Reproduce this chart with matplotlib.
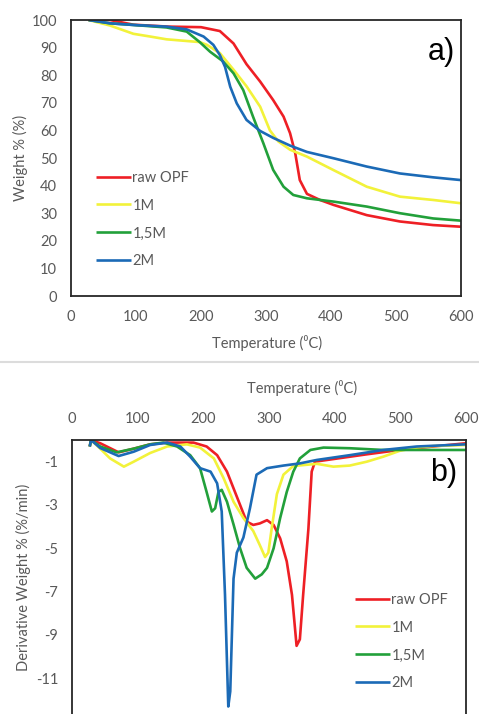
import numpy as np
import matplotlib
matplotlib.use('Agg')
import matplotlib.pyplot as plt
from matplotlib.lines import Line2D

plt.rcParams['font.family'] = ['Lato', 'DejaVu Sans']
plt.rcParams['axes.unicode_minus'] = False

# ====================================
# DATA
# ====================================
labels = ['raw OPF', '1M', '1,5M', '2M']
colors = ['#EE1F25', '#F2F23A', '#22A03A', '#1B6AB6']

# TGA (weight %)
tga_raw_t = [27, 60, 96, 150, 200, 229, 250, 270, 291, 311, 327, 337, 345, 352, 363, 383, 404, 455, 506, 557, 600]
tga_raw_w = [100, 100, 98.3, 97.6, 97.4, 96, 91.5, 84, 77.7, 71, 65, 59, 51.7, 42, 37, 34.8, 33, 29.3, 27, 25.7, 25.1]

tga_1m_t = [27, 60, 96, 122, 147, 198, 209, 229, 250, 270, 291, 306, 319, 337, 363, 404, 455, 506, 557, 600]
tga_1m_w = [100, 98, 95, 94, 93, 92, 91, 88, 82, 76, 68.6, 60, 56, 53, 50.5, 45.6, 39.6, 36, 34.8, 33.6]

tga_15m_t = [27, 60, 96, 147, 178, 198, 214, 234, 250, 265, 280, 296, 311, 327, 342, 363, 404, 455, 506, 557, 600]
tga_15m_w = [100, 98.8, 98.2, 97.3, 95.8, 92, 88.5, 85, 80.7, 74.6, 65, 55.3, 45.7, 39.6, 36.6, 35.4, 34.2, 32.4, 30, 28.1, 27.3]

tga_2m_t = [27, 60, 96, 147, 178, 204, 219, 229, 237, 245, 255, 270, 291, 311, 337, 363, 404, 455, 506, 557, 600]
tga_2m_w = [100, 98.8, 98.2, 97.6, 96.6, 94, 91, 87.3, 83, 75.8, 69.8, 63.8, 59.8, 57.3, 54.5, 52.2, 49.9, 46.9, 44.4, 43, 42]

# DTG (%/min)
dtg_raw_t = [27, 29, 43, 71, 94, 119, 145, 185, 205, 221, 236, 246, 256, 266, 276, 286, 297, 307, 317, 327, 335, 342, 347, 352, 360, 365, 370, 398, 449, 499, 550, 600]
dtg_raw_d = [-0.3, 0, -0.15, -0.57, -0.4, -0.2, -0.12, -0.12, -0.3, -0.7, -1.46, -2.23, -3.0, -3.77, -3.92, -3.85, -3.7, -3.92, -4.54, -5.6, -7.15, -9.5, -9.2, -7.15, -4.1, -1.46, -1.0, -0.88, -0.66, -0.46, -0.3, -0.15]

dtg_1m_t = [27, 29, 43, 58, 79, 94, 119, 145, 175, 195, 216, 231, 246, 261, 276, 286, 294, 299, 304, 312, 322, 337, 373, 398, 423, 449, 474, 499, 525, 550, 600]
dtg_1m_d = [-0.3, 0, -0.4, -0.85, -1.23, -1.0, -0.6, -0.3, -0.2, -0.35, -0.85, -1.77, -2.85, -3.6, -4.2, -4.85, -5.4, -5.2, -4.1, -2.5, -1.6, -1.2, -1.1, -1.23, -1.18, -1.0, -0.77, -0.5, -0.35, -0.28, -0.23]

dtg_15m_t = [27, 29, 43, 68, 94, 119, 139, 160, 180, 195, 205, 213, 218, 223, 228, 236, 246, 256, 266, 279, 289, 297, 307, 317, 327, 337, 347, 363, 383, 423, 474, 525, 600]
dtg_15m_d = [-0.3, 0, -0.3, -0.57, -0.4, -0.2, -0.12, -0.3, -0.7, -1.3, -2.4, -3.3, -3.15, -2.4, -2.3, -2.85, -3.9, -5.0, -5.9, -6.4, -6.2, -5.9, -5.0, -3.6, -2.4, -1.46, -0.85, -0.46, -0.35, -0.38, -0.46, -0.46, -0.46]

dtg_2m_t = [27, 29, 43, 71, 94, 119, 145, 165, 180, 195, 211, 221, 228, 233, 238, 241, 246, 251, 261, 271, 281, 297, 322, 347, 373, 423, 474, 525, 600]
dtg_2m_d = [-0.3, 0, -0.37, -0.74, -0.54, -0.23, -0.12, -0.3, -0.77, -1.3, -1.46, -2.0, -3.3, -7.15, -12.3, -11.6, -6.4, -5.2, -4.5, -3.15, -1.6, -1.3, -1.18, -1.08, -0.92, -0.7, -0.46, -0.3, -0.2]

x_ticks = [0, 100, 200, 300, 400, 500, 600]
tga_yticks = list(range(0, 101, 10))
dtg_yticks = [-1, -3, -5, -7, -9, -11, -13]

tga_series = [(tga_raw_t, tga_raw_w), (tga_1m_t, tga_1m_w), (tga_15m_t, tga_15m_w), (tga_2m_t, tga_2m_w)]
dtg_series = [(dtg_raw_t, dtg_raw_d), (dtg_1m_t, dtg_1m_d), (dtg_15m_t, dtg_15m_d), (dtg_2m_t, dtg_2m_d)]

txt_col = '#595959'
W, H = 479, 714

fig = plt.figure(figsize=(W / 100, H / 100), dpi=100)

def style_axes(ax):
    for s in ax.spines.values():
        s.set_color('#262626')
        s.set_linewidth(1.3)
    ax.tick_params(length=0, labelsize=10.5, labelcolor=txt_col, pad=10)

# ====================================
# a) TGA
# ====================================
ax1 = fig.add_axes([71 / W, 1 - 296 / H, 390 / W, 276 / H])
for (t, w), c, lab in zip(tga_series, colors, labels):
    ax1.plot(t, w, color=c, lw=1.9, label=lab, solid_capstyle='butt')
ax1.set_xlim(0, 600)
ax1.set_ylim(0, 100)
ax1.set_xticks(x_ticks)
ax1.set_yticks(tga_yticks)
style_axes(ax1)
fig.text(20 / W, 1 - 158 / H, 'Weight % (%)', rotation=90, ha='center', va='center',
         color=txt_col, fontsize=10.5)
fig.text(267 / W, 1 - 343 / H, 'Temperature (\u2070C)', ha='center', va='center',
         color=txt_col, fontsize=10.5)
fig.text(441 / W, 1 - 52 / H, 'a)', ha='center', va='center', fontsize=22,
         family='Liberation Sans', color='black')
ax1.legend(loc='center left', bbox_to_anchor=(96 / W, 1 - 219.5 / H), bbox_transform=fig.transFigure,
           frameon=False, fontsize=10.5, labelcolor=txt_col, handlelength=2.4, handletextpad=0.1,
           labelspacing=0.95, borderpad=0, borderaxespad=0)

# separator
fig.add_artist(Line2D([0, 1], [1 - 362 / H, 1 - 362 / H], color='#dcdcdc', lw=1.5,
                      transform=fig.transFigure))

# ====================================
# b) DTG
# ====================================
ax2 = fig.add_axes([72 / W, 1 - 765 / H, 394 / W, 325 / H])
for (t, d), c, lab in zip(dtg_series, colors, labels):
    ax2.plot(t, d, color=c, lw=1.9, label=lab, solid_capstyle='butt')
ax2.set_xlim(0, 600)
ax2.set_ylim(-15, 0)
ax2.set_xticks(x_ticks)
ax2.set_yticks(dtg_yticks)
ax2.xaxis.tick_top()
style_axes(ax2)
fig.text(23 / W, 1 - 577 / H, 'Derivative Weight % (%/min)', rotation=90, ha='center', va='center',
         color=txt_col, fontsize=10.5)
fig.text(302 / W, 1 - 388 / H, 'Temperature (\u2070C)', ha='center', va='center',
         color=txt_col, fontsize=10.5)
fig.text(444 / W, 1 - 473 / H, 'b)', ha='center', va='center', fontsize=22,
         family='Liberation Sans', color='black')
ax2.legend(loc='center left', bbox_to_anchor=(355 / W, 1 - 641.5 / H), bbox_transform=fig.transFigure,
           frameon=False, fontsize=10.5, labelcolor=txt_col, handlelength=2.4, handletextpad=0.1,
           labelspacing=0.95, borderpad=0, borderaxespad=0)

fig.savefig('out.png', dpi=100)
